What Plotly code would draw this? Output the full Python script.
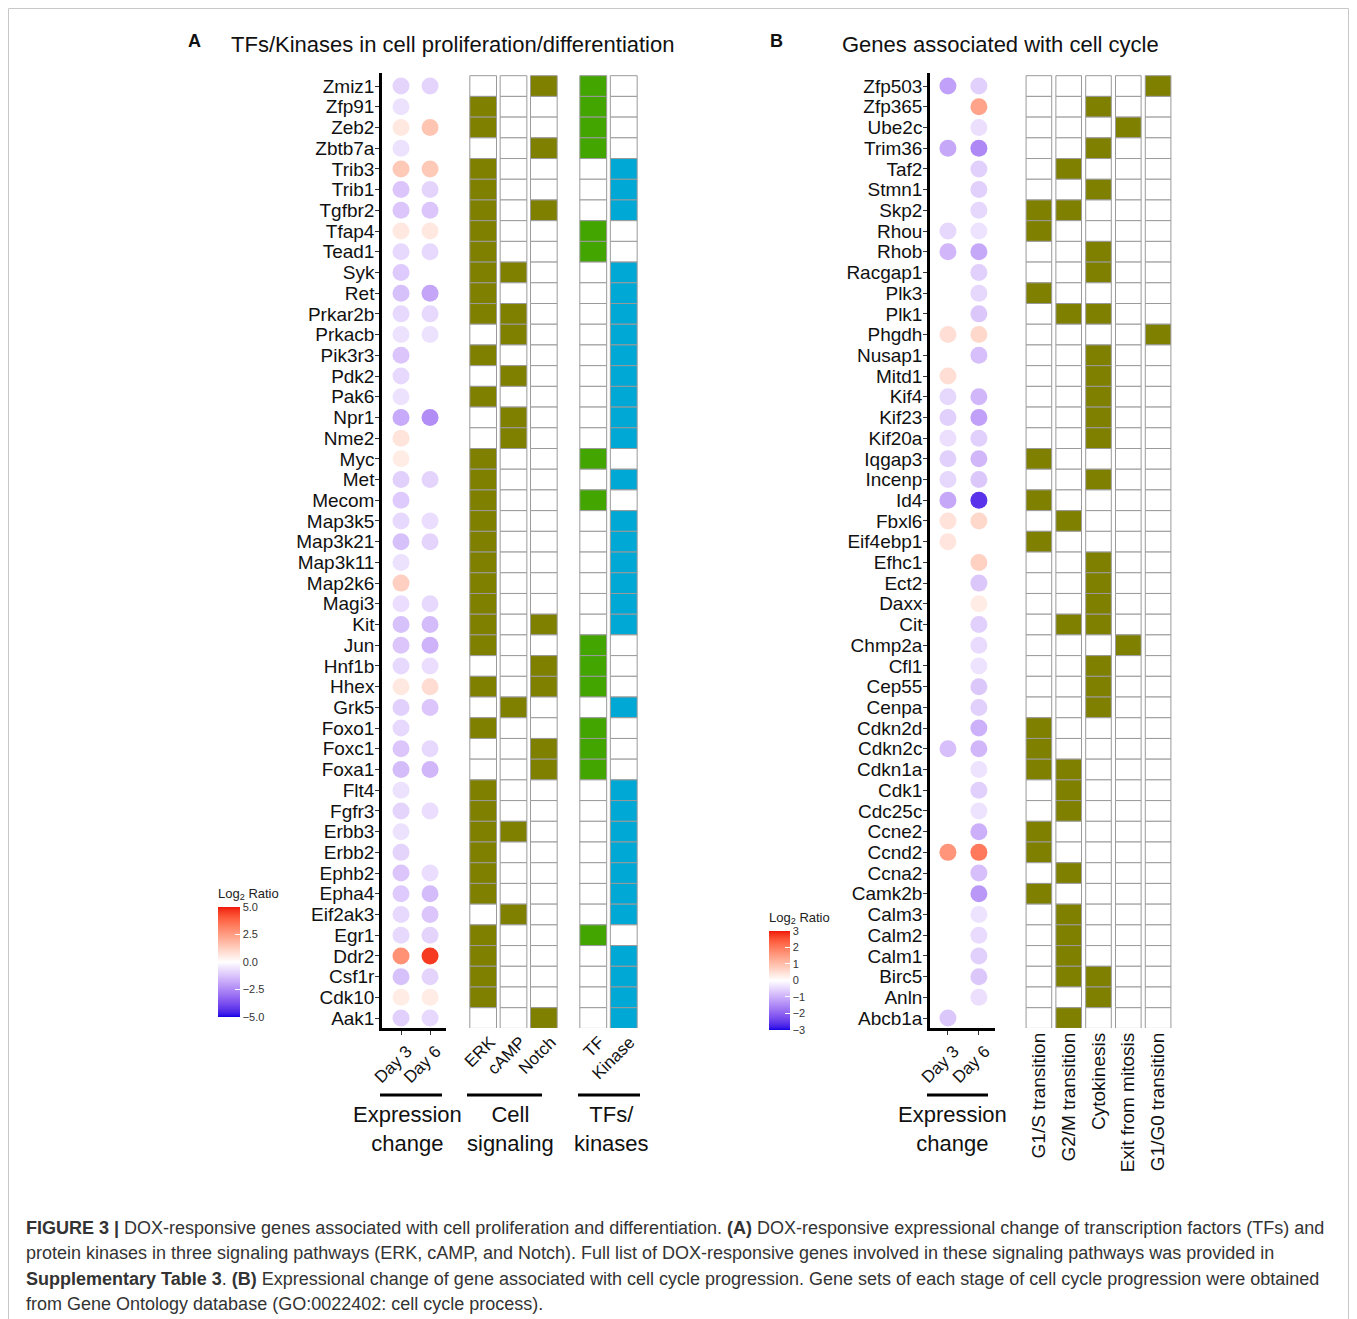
import plotly.graph_objects as go
import numpy as np

# page is drawn inside an 8px body margin
OFF = 8
W, H = 1357 - 2 * OFF, 1319 - OFF
FONT = "Liberation Sans, Arial, sans-serif"

# ---------------- Panel A data ----------------
genes_a = ["Zmiz1", "Zfp91", "Zeb2", "Zbtb7a", "Trib3", "Trib1", "Tgfbr2", "Tfap4", "Tead1", "Syk",
           "Ret", "Prkar2b", "Prkacb", "Pik3r3", "Pdk2", "Pak6", "Npr1", "Nme2", "Myc", "Met",
           "Mecom", "Map3k5", "Map3k21", "Map3k11", "Map2k6", "Magi3", "Kit", "Jun", "Hnf1b", "Hhex",
           "Grk5", "Foxo1", "Foxc1", "Foxa1", "Flt4", "Fgfr3", "Erbb3", "Erbb2", "Ephb2", "Epha4",
           "Eif2ak3", "Egr1", "Ddr2", "Csf1r", "Cdk10", "Aak1"]
day3_a = [-0.9, -0.6, 0.6, -0.6, 1.4, -1.2, -1.2, 0.6, -0.8, -1.1,
          -1.3, -0.8, -0.6, -1.2, -0.8, -0.6, -1.8, 0.7, 0.5, -1.0,
          -1.1, -0.8, -1.3, -0.6, 1.2, -0.7, -1.3, -1.2, -0.8, 0.6,
          -1.0, -0.8, -1.2, -1.4, -0.6, -0.9, -0.6, -0.9, -1.2, -1.1,
          -0.8, -0.8, 2.8, -1.3, 0.5, -1.0]
day6_a = [-0.9, None, 1.5, None, 1.4, -0.9, -1.2, 0.6, -0.8, None,
          -1.9, -0.8, -0.6, None, None, None, -2.4, None, None, -0.9,
          None, -0.7, -0.9, None, None, -0.8, -1.4, -1.6, -0.7, 0.9,
          -1.2, None, -0.8, -1.5, None, -0.7, None, None, -0.7, -1.4,
          -1.2, -0.9, 4.6, -0.9, 0.5, -0.8]
sig_cols = ["ERK", "cAMP", "Notch"]
erk_genes = ["Zfp91", "Zeb2", "Trib3", "Trib1", "Tgfbr2", "Tfap4", "Tead1", "Syk", "Ret", "Prkar2b",
             "Pik3r3", "Pak6", "Myc", "Met", "Mecom", "Map3k5", "Map3k21", "Map3k11", "Map2k6", "Magi3",
             "Kit", "Jun", "Hhex", "Foxo1", "Flt4", "Fgfr3", "Erbb3", "Erbb2", "Ephb2", "Epha4",
             "Egr1", "Ddr2", "Csf1r", "Cdk10"]
camp_genes = ["Syk", "Prkar2b", "Prkacb", "Pdk2", "Npr1", "Nme2", "Grk5", "Erbb3", "Eif2ak3"]
notch_genes = ["Zmiz1", "Zbtb7a", "Tgfbr2", "Kit", "Hnf1b", "Hhex", "Foxc1", "Foxa1", "Aak1"]
tk_cols = ["TF", "Kinase"]
tf_genes = ["Zmiz1", "Zfp91", "Zeb2", "Zbtb7a", "Tfap4", "Tead1", "Myc", "Mecom", "Jun", "Hnf1b",
            "Hhex", "Foxo1", "Foxc1", "Foxa1", "Egr1"]
kinase_genes = ["Trib3", "Trib1", "Tgfbr2", "Syk", "Ret", "Prkar2b", "Prkacb", "Pik3r3", "Pdk2", "Pak6",
                "Npr1", "Nme2", "Met", "Map3k5", "Map3k21", "Map3k11", "Map2k6", "Magi3", "Kit", "Grk5",
                "Flt4", "Fgfr3", "Erbb3", "Erbb2", "Ephb2", "Epha4", "Eif2ak3", "Ddr2", "Csf1r", "Cdk10",
                "Aak1"]

# ---------------- Panel B data ----------------
genes_b = ["Zfp503", "Zfp365", "Ube2c", "Trim36", "Taf2", "Stmn1", "Skp2", "Rhou", "Rhob", "Racgap1",
           "Plk3", "Plk1", "Phgdh", "Nusap1", "Mitd1", "Kif4", "Kif23", "Kif20a", "Iqgap3", "Incenp",
           "Id4", "Fbxl6", "Eif4ebp1", "Efhc1", "Ect2", "Daxx", "Cit", "Chmp2a", "Cfl1", "Cep55",
           "Cenpa", "Cdkn2d", "Cdkn2c", "Cdkn1a", "Cdk1", "Cdc25c", "Ccne2", "Ccnd2", "Ccna2", "Camk2b",
           "Calm3", "Calm2", "Calm1", "Birc5", "Anln", "Abcb1a"]
day3_b = [-1.2, None, None, -1.1, None, None, None, -0.5, -0.9, None,
          None, None, 0.5, None, 0.5, -0.5, -0.6, -0.4, -0.6, -0.5,
          -1.1, 0.45, 0.4, None, None, None, None, None, None, None,
          None, None, -0.8, None, None, None, None, 1.6, None, None,
          None, None, None, None, None, -0.7]
day6_b = [-0.6, 1.4, -0.4, -1.5, -0.6, -0.6, -0.5, -0.35, -1.1, -0.6,
          -0.5, -0.7, 0.6, -0.8, None, -0.9, -1.2, -0.6, -0.9, -0.7,
          -2.6, 0.6, None, 0.7, -0.7, 0.3, -0.6, -0.45, -0.35, -0.7,
          -0.6, -1.0, -0.9, -0.35, -0.6, -0.35, -1.0, 2.0, -0.8, -1.3,
          -0.35, -0.45, -0.6, -0.7, -0.4, None]
cc_cols = ["G1/S transition", "G2/M transition", "Cytokinesis", "Exit from mitosis", "G1/G0 transition"]
g1s_genes = ["Skp2", "Rhou", "Plk3", "Iqgap3", "Id4", "Eif4ebp1", "Cdkn2d", "Cdkn2c", "Cdkn1a", "Ccne2",
             "Ccnd2", "Camk2b"]
g2m_genes = ["Taf2", "Skp2", "Plk1", "Fbxl6", "Cit", "Cdkn1a", "Cdk1", "Cdc25c", "Ccna2", "Calm3",
             "Calm2", "Calm1", "Birc5", "Abcb1a"]
cyto_genes = ["Zfp365", "Trim36", "Stmn1", "Rhob", "Racgap1", "Plk1", "Nusap1", "Mitd1", "Kif4", "Kif23",
              "Kif20a", "Incenp", "Efhc1", "Ect2", "Daxx", "Cit", "Cfl1", "Cep55", "Cenpa", "Birc5",
              "Anln"]
exit_genes = ["Ube2c", "Chmp2a"]
g1g0_genes = ["Zfp503", "Phgdh"]

# ---------------- style helpers ----------------
OLIVE, GREEN, BLUE = "#808000", "#43a600", "#00a8d5"


def _lin(c):
    c = c / 255.0
    return c / 12.92 if c <= 0.04045 else ((c + 0.055) / 1.055) ** 2.4


def _delin(c):
    c = 12.92 * c if c <= 0.0031308 else 1.055 * c ** (1 / 2.4) - 0.055
    return int(round(min(max(c, 0), 1) * 255))


def rgb2lab(rgb):
    r, g, b = [_lin(v) for v in rgb]
    x = (0.4124 * r + 0.3576 * g + 0.1805 * b) / 0.95047
    y = (0.2126 * r + 0.7152 * g + 0.0722 * b)
    z = (0.0193 * r + 0.1192 * g + 0.9505 * b) / 1.08883
    f = lambda t: t ** (1 / 3) if t > 0.008856 else 7.787 * t + 16 / 116
    fx, fy, fz = f(x), f(y), f(z)
    return (116 * fy - 16, 500 * (fx - fy), 200 * (fy - fz))


def lab2rgb(lab):
    L, a, b = lab
    fy = (L + 16) / 116
    fx = fy + a / 500
    fz = fy - b / 200
    fi = lambda t: t ** 3 if t ** 3 > 0.008856 else (t - 16 / 116) / 7.787
    x, y, z = fi(fx) * 0.95047, fi(fy), fi(fz) * 1.08883
    r = 3.2406 * x - 1.5372 * y - 0.4986 * z
    g = -0.9689 * x + 1.8758 * y + 0.0415 * z
    bb = 0.0557 * x - 0.2040 * y + 1.0570 * z
    return "rgb(%d,%d,%d)" % (_delin(r), _delin(g), _delin(bb))


lab_lo, lab_mid, lab_hi = rgb2lab((20, 0, 230)), rgb2lab((255, 255, 255)), rgb2lab((240, 20, 10))
cscale = []
for t in np.linspace(0, 1, 41):
    if t <= 0.5:
        s = t / 0.5
        lab = tuple(lo + (m - lo) * s for lo, m in zip(lab_lo, lab_mid))
    else:
        s = (t - 0.5) / 0.5
        lab = tuple(m + (hi - m) * s for m, hi in zip(lab_mid, lab_hi))
    cscale.append([float(t), lab2rgb(lab)])


def xd(px):
    return (px - OFF) / W


def yd(py):
    return 1 - (py - OFF) / H


def dot_points(genes, d3, d6):
    xs, ys, cs = [], [], []
    for i, g in enumerate(genes):
        for lab, vals in (("Day 3", d3), ("Day 6", d6)):
            if vals[i] is not None:
                xs.append(lab)
                ys.append(i)
                cs.append(vals[i])
    return xs, ys, cs


def grid_points(genes, cols, members, colors):
    xs, base, ys, fills = [], [], [], []
    for c, mem, col in zip(cols, members, colors):
        for i, g in enumerate(genes):
            xs.append(c)
            base.append(i - 0.5)
            ys.append(1)
            fills.append(col if g in mem else "white")
    return xs, base, ys, fills


def cbar(x_px, top_px, bar_len, thick, vals, texts):
    title_h = 20
    return dict(x=xd(x_px), xanchor="left", y=yd(top_px - title_h), yanchor="top",
                len=bar_len + title_h, lenmode="pixels", thickness=thick, xpad=0, ypad=0,
                outlinewidth=0, ticks="inside", ticklen=5, tickcolor="white",
                tickvals=vals, ticktext=texts,
                tickfont=dict(size=11, color="#333", family=FONT),
                title=dict(text="Log<sub>2</sub> Ratio", side="top",
                           font=dict(size=13, color="#222", family=FONT)))


fig = go.Figure()

# ---- dots A
xa, ya, ca = dot_points(genes_a, day3_a, day6_a)
fig.add_trace(go.Scatter(
    x=xa, y=ya, mode="markers", xaxis="x", yaxis="y", showlegend=False,
    marker=dict(size=17, color=ca, colorscale=cscale, cmin=-5, cmax=5, line=dict(width=0),
                colorbar=cbar(218, 905, 112, 22, [-5, -2.5, 0, 2.5, 5],
                              ["\u22125.0", "\u22122.5", "0.0", "2.5", "5.0"]))))

# ---- grid A (signaling)
gx, gb, gy, gf = grid_points(genes_a, sig_cols, [erk_genes, camp_genes, notch_genes], [OLIVE, OLIVE, OLIVE])
fig.add_trace(go.Bar(x=gx, y=gy, base=gb, width=0.88, xaxis="x2", yaxis="y", showlegend=False,
                     marker=dict(color=gf, line=dict(color="#9a9a9a", width=1))))
# ---- grid A (TF / kinase)
gx, gb, gy, gf = grid_points(genes_a, tk_cols, [tf_genes, kinase_genes], [GREEN, BLUE])
fig.add_trace(go.Bar(x=gx, y=gy, base=gb, width=0.88, xaxis="x3", yaxis="y", showlegend=False,
                     marker=dict(color=gf, line=dict(color="#9a9a9a", width=1))))

# ---- dots B
xb, yb, cb = dot_points(genes_b, day3_b, day6_b)
fig.add_trace(go.Scatter(
    x=xb, y=yb, mode="markers", xaxis="x4", yaxis="y2", showlegend=False,
    marker=dict(size=17, color=cb, colorscale=cscale, cmin=-3, cmax=3, line=dict(width=0),
                colorbar=cbar(769, 929, 101, 21, [-3, -2, -1, 0, 1, 2, 3],
                              ["\u22123", "\u22122", "\u22121", "0", "1", "2", "3"]))))

# ---- grid B
gx, gb, gy, gf = grid_points(genes_b, cc_cols, [g1s_genes, g2m_genes, cyto_genes, exit_genes, g1g0_genes],
                             [OLIVE] * 5)
fig.add_trace(go.Bar(x=gx, y=gy, base=gb, width=0.86, xaxis="x5", yaxis="y2", showlegend=False,
                     marker=dict(color=gf, line=dict(color="#9a9a9a", width=1))))

ydom = [yd(1028), yd(73)]
yrange = [45.48, -0.63]

dot_x = dict(type="category", showline=True, linewidth=2.5, linecolor="black", ticks="outside",
             ticklen=4, tickcolor="#333", tickangle=-45, showgrid=False, zeroline=False,
             ticklabelshift=6, tickfont=dict(size=17, color="#111", family=FONT),
             categoryorder="array", categoryarray=["Day 3", "Day 6"], automargin=False)
grid_x = dict(type="category", showline=False, ticks="", showgrid=False, zeroline=False,
              automargin=False)
yax = dict(domain=ydom, range=yrange, tickmode="array", showline=True, linewidth=2.5,
           linecolor="black", ticks="outside", ticklen=4, tickcolor="#333", showgrid=False,
           zeroline=False, ticklabelstandoff=-3,
           tickfont=dict(size=19, color="#111", family=FONT), automargin=False)

fig.update_layout(
    width=W, height=H, margin=dict(l=0, r=0, t=0, b=0), autosize=False,
    paper_bgcolor="white", plot_bgcolor="rgba(0,0,0,0)", barmode="overlay",
    font=dict(family=FONT, color="#111"),
    xaxis=dict(domain=[xd(382), xd(446)], range=[-0.655, 1.55], anchor="y", **dot_x),
    xaxis2=dict(domain=[xd(468), xd(559)], range=[-0.5, 2.5], anchor="y", tickangle=-45,
                categoryorder="array", categoryarray=sig_cols, ticklabelshift=7,
                tickfont=dict(size=17, color="#111", family=FONT), **grid_x),
    xaxis3=dict(domain=[xd(578), xd(639)], range=[-0.5, 1.5], anchor="y", tickangle=-45,
                categoryorder="array", categoryarray=tk_cols, ticklabelshift=6,
                tickfont=dict(size=17, color="#111", family=FONT), **grid_x),
    xaxis4=dict(domain=[xd(930), xd(995)], range=[-0.58, 1.52], anchor="y2", **dot_x),
    xaxis5=dict(domain=[xd(1024), xd(1173)], range=[-0.5, 4.5], anchor="y2", tickangle=-90,
                categoryorder="array", categoryarray=cc_cols,
                tickfont=dict(size=19, color="#111", family=FONT), **grid_x),
    yaxis=dict(anchor="x", tickvals=list(range(len(genes_a))), ticktext=genes_a, **yax),
    yaxis2=dict(anchor="x4", tickvals=list(range(len(genes_b))), ticktext=genes_b, **yax),
)

shapes = [dict(type="rect", xref="paper", yref="paper", x0=xd(8.5), x1=xd(1348.5), y0=-0.05,
               y1=yd(8.5), line=dict(color="#c8c8c8", width=1))]
for x0, x1 in [(380, 442), (467, 542), (578, 640), (927, 988)]:
    shapes.append(dict(type="line", xref="paper", yref="paper", x0=xd(x0), x1=xd(x1), y0=yd(1095),
                       y1=yd(1095), line=dict(color="black", width=3)))
fig.update_layout(shapes=shapes)

ann = []
ann.append(dict(text="<b>A</b>", x=xd(195), y=yd(41), font=dict(size=18)))
ann.append(dict(text="TFs/Kinases in cell proliferation/differentiation", x=xd(452.5), y=yd(44),
                font=dict(size=22)))
ann.append(dict(text="<b>B</b>", x=xd(776), y=yd(41), font=dict(size=18)))
ann.append(dict(text="Genes associated with cell cycle", x=xd(1000.5), y=yd(44), font=dict(size=22)))
for cx, txt in [(407, "Expression<br>change"), (510, "Cell<br>signaling"), (611, "TFs/<br>kinases"),
                (952, "Expression<br>change")]:
    ann.append(dict(text=txt, x=xd(cx), y=yd(1129), font=dict(size=22)))
caption = [
    "<b>FIGURE 3 |</b> DOX-responsive genes associated with cell proliferation and differentiation. <b>(A)</b> DOX-responsive expressional change of transcription factors (TFs) and",
    "protein kinases in three signaling pathways (ERK, cAMP, and Notch). Full list of DOX-responsive genes involved in these signaling pathways was provided in",
    "<b>Supplementary Table 3</b>. <b>(B)</b> Expressional change of gene associated with cell cycle progression. Gene sets of each stage of cell cycle progression were obtained",
    "from Gene Ontology database (GO:0022402: cell cycle process).",
]
for k, line in enumerate(caption):
    ann.append(dict(text=line, x=xd(24), xanchor="left", y=yd(1228 + 25.3 * k),
                    font=dict(size=18, color="#333")))
for a in ann:
    a.setdefault("xref", "paper")
    a.setdefault("yref", "paper")
    a.setdefault("showarrow", False)
    a.setdefault("xanchor", "center")
    a.setdefault("yanchor", "middle")
    a["font"].setdefault("family", FONT)
    a["font"].setdefault("color", "#111")
fig.update_layout(annotations=ann)

fig.write_html("out.html")
